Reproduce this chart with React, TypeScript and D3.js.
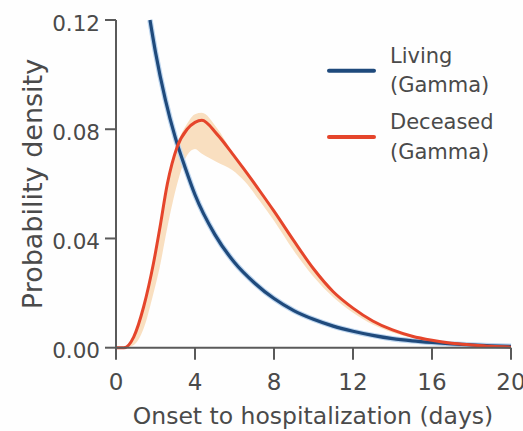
import React from "react";
import * as d3 from "d3";

// ---- data ----
const xTicks = [0, 4, 8, 12, 16, 20];
const yTicks = [0, 0.04, 0.08, 0.12];
const yTickLabels = ["0.00", "0.04", "0.08", "0.12"];

const livingDays = [1.72, 2.0, 2.5, 3.0, 3.5, 4.0, 5.0, 6.0, 7.0, 8.0, 9.0, 10, 11, 12, 13, 14, 15, 16, 17, 18, 19, 20];
const livingDensity = [0.12, 0.1082, 0.0908, 0.077, 0.066, 0.056, 0.0415, 0.0312, 0.0238, 0.018, 0.0136, 0.0104, 0.0079, 0.006, 0.0045, 0.0033, 0.0025, 0.0019, 0.0014, 0.001, 0.0007, 0.0005];

const deceasedDays = [0, 0.4, 0.9, 1.4, 1.9, 2.2, 2.6, 3.1, 3.6, 4.0, 4.35, 5.1, 5.9, 6.5, 7.3, 8.0, 9, 10, 11, 12, 13, 14, 15, 16, 17, 18, 19, 20];
const deceasedDensity = [0, 0, 0.004, 0.015, 0.031, 0.043, 0.06, 0.0736, 0.08, 0.0825, 0.0833, 0.0783, 0.071, 0.0652, 0.0572, 0.05, 0.0392, 0.0289, 0.0205, 0.0145, 0.0098, 0.0065, 0.0042, 0.0027, 0.0016, 0.001, 0.0005, 0.0002];
const deceasedUpper = [0, 0, 0.004, 0.015, 0.031, 0.043, 0.06, 0.0745, 0.082, 0.0855, 0.086, 0.0805, 0.0715, 0.0657, 0.0576, 0.0502, 0.0393, 0.029, 0.0207, 0.0146, 0.0099, 0.0066, 0.0043, 0.0028, 0.0017, 0.001, 0.0005, 0.0002];
const deceasedLower = [0, 0, 0.001, 0.007, 0.02, 0.029, 0.044, 0.06, 0.0705, 0.0728, 0.071, 0.068, 0.065, 0.061, 0.0535, 0.0465, 0.0355, 0.026, 0.0185, 0.0128, 0.0085, 0.0056, 0.0036, 0.0022, 0.0012, 0.0007, 0.0004, 0.0002];

const legendLabels = [
  ["Living", "(Gamma)"],
  ["Deceased", "(Gamma)"],
];

const BLUE = "#1f4a7c";
const RED = "#e5452b";
const BAND = "#f9dfc0";
const AXIS = "#5a5a5a";
const TEXT = "#4a4a4a";
const FONT = "DejaVu Sans, Verdana, sans-serif";

export default function App() {
  const x = d3.scaleLinear().domain([0, 20]).range([116, 511]);
  const y = d3.scaleLinear().domain([0, 0.12]).range([347.7, 20]);

  const living = livingDays.map((d, i) => [d, livingDensity[i]] as [number, number]);
  const deceased = deceasedDays.map((d, i) => [d, deceasedDensity[i]] as [number, number]);
  const band = deceasedDays.map((d, i) => ({ d, lo: deceasedLower[i], hi: deceasedUpper[i] }));

  const line = d3
    .line<[number, number]>()
    .x((p) => x(p[0]))
    .y((p) => y(p[1]))
    .curve(d3.curveMonotoneX);

  const area = d3
    .area<{ d: number; lo: number; hi: number }>()
    .x((p) => x(p.d))
    .y0((p) => y(p.lo))
    .y1((p) => y(p.hi))
    .curve(d3.curveMonotoneX);

  const legendColors = [BLUE, RED];
  const legendY = [70.7, 137];
  const legendTextY = [
    [63.3, 92],
    [128.5, 158.5],
  ];

  return (
    <svg
      width={523}
      height={431}
      style={{ position: "absolute", left: 0, top: 0, background: "#fefefe" }}
      fontFamily={FONT}
    >
      {/* band */}
      <path d={area(band) || ""} fill={BAND} />
      {/* living halo + line */}
      <path d={line(living) || ""} fill="none" stroke="#bcd5ef" strokeWidth={5.5} />
      <path d={line(living) || ""} fill="none" stroke={BLUE} strokeWidth={3.2} />
      {/* deceased line */}
      <path d={line(deceased) || ""} fill="none" stroke={RED} strokeWidth={3} strokeLinejoin="round" />

      {/* y axis */}
      <line x1={x(0)} x2={x(0)} y1={y(0.12)} y2={y(0)} stroke={AXIS} strokeWidth={2} />
      {yTicks.map((t, i) => (
        <g key={"yt" + i}>
          <line x1={x(0) - 11} x2={x(0)} y1={y(t)} y2={y(t)} stroke={AXIS} strokeWidth={2} />
          <text x={100} y={y(t) + 10.7} textAnchor="end" fontSize={21.5} fill={TEXT}>
            {yTickLabels[i]}
          </text>
        </g>
      ))}
      {/* x axis */}
      <line x1={x(0)} x2={x(20)} y1={y(0)} y2={y(0)} stroke={AXIS} strokeWidth={2} />
      {xTicks.map((t) => (
        <g key={"xt" + t}>
          <line x1={x(t)} x2={x(t)} y1={y(0)} y2={y(0) + 12} stroke={AXIS} strokeWidth={2} />
          <text x={x(t)} y={389.5} textAnchor="middle" fontSize={23} fill={TEXT}>
            {t}
          </text>
        </g>
      ))}

      {/* axis titles */}
      <text x={313} y={424} textAnchor="middle" fontSize={23.5} fill={TEXT}>
        Onset to hospitalization (days)
      </text>
      <text
        transform={`translate(42,184) rotate(-90)`}
        textAnchor="middle"
        fontSize={27}
        fill={TEXT}
      >
        Probability density
      </text>

      {/* legend */}
      {legendLabels.map((lbl, i) => (
        <g key={"lg" + i}>
          <line x1={329} x2={374} y1={legendY[i]} y2={legendY[i]} stroke={legendColors[i]} strokeWidth={4} strokeLinecap="round" />
          <text x={390} y={legendTextY[i][0]} fontSize={21} fill={TEXT}>
            {lbl[0]}
          </text>
          <text x={390} y={legendTextY[i][1]} fontSize={21} fill={TEXT}>
            {lbl[1]}
          </text>
        </g>
      ))}
    </svg>
  );
}
